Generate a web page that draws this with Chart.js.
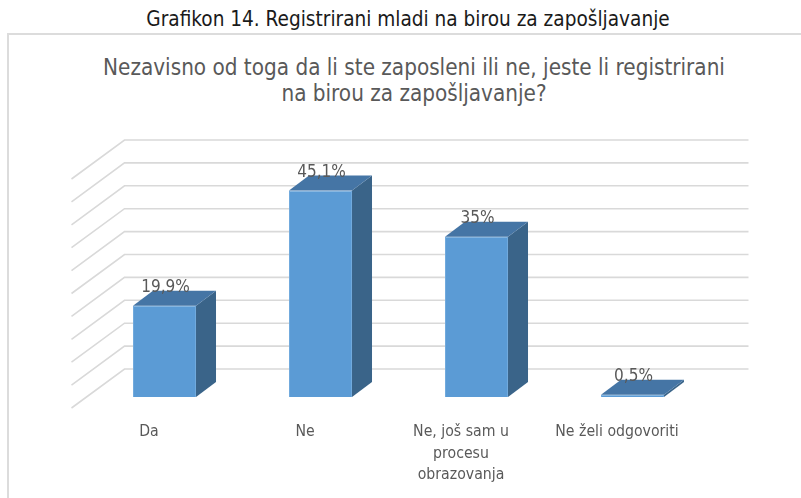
<!DOCTYPE html>
<html>
<head>
<meta charset="utf-8">
<script src="https://cdn.jsdelivr.net/npm/chart.js@4.4.1/dist/chart.umd.min.js"></script>
<style>
  body { margin: 0; background: #fff; }
  .page { position: relative; width: 801px; height: 498px; overflow: hidden;
          font-family: "Liberation Sans Narrow", "DejaVu Sans Condensed", sans-serif; }
  .caption { position: absolute; left: 0; width: 816px; top: 6px; text-align: center;
             font-size: 20.6px; color: #1a1a1a; line-height: 26px; }
  .box { position: absolute; left: 7px; top: 33px; width: 820px; height: 500px;
         border: 2px solid #dcdcdc; }
  .question { position: absolute; left: 0; width: 828px; top: 54px; text-align: center;
              font-size: 22.3px; color: #595959; line-height: 26px; }
  canvas { position: absolute; left: 0; top: 0; }
</style>
</head>
<body>
<div class="page">
  <div class="caption">Grafikon 14. Registrirani mladi na birou za zapošljavanje</div>
  <div class="box"></div>
  <div class="question">Nezavisno od toga da li ste zaposleni ili ne, jeste li registrirani<br>na birou za zapošljavanje?</div>
  <canvas id="chart" width="801" height="498"></canvas>
</div>
<script>
// ── Data ──────────────────────────────────────
const categories = ['Da', 'Ne', ['Ne, još sam u', 'procesu', 'obrazovanja'], 'Ne želi odgovoriti'];
const values = [19.9, 45.1, 35, 0.5];
const yTicks = [0, 5, 10, 15, 20, 25, 30, 35, 40, 45, 50];

const FONT = "'Liberation Sans Narrow', 'DejaVu Sans Condensed', sans-serif";

// ── 3D look ───────────────────────────────────
const depth = { x: 20, y: -15 };     // bar thickness
const wall  = { x: 38, y: -28 };     // back wall offset from bar fronts
const floor = { x: -53, y: 39 };     // side wall diagonal

const fake3d = {
  id: 'fake3d',
  beforeDatasetsDraw(chart) {
    const { ctx, chartArea: a, scales: { y } } = chart;
    ctx.save();
    ctx.strokeStyle = '#d9d9d9';
    ctx.lineWidth = 1.6;
    yTicks.forEach(v => {
      const py = y.getPixelForValue(v) + wall.y;
      const px = a.left + wall.x;
      ctx.beginPath();
      ctx.moveTo(px + floor.x, py + floor.y);
      ctx.lineTo(px, py);
      ctx.lineTo(a.right + wall.x, py);
      ctx.stroke();
    });
    ctx.restore();
  },
  afterDatasetsDraw(chart) {
    const { ctx } = chart;
    const bars = chart.getDatasetMeta(0).data;
    ctx.save();
    bars.forEach(bar => {
      const l = bar.x - bar.width / 2, r = bar.x + bar.width / 2;
      // side
      ctx.fillStyle = '#3a6489';
      ctx.beginPath();
      ctx.moveTo(r, bar.y);
      ctx.lineTo(r + depth.x, bar.y + depth.y);
      ctx.lineTo(r + depth.x, bar.base + depth.y);
      ctx.lineTo(r, bar.base);
      ctx.closePath();
      ctx.fill();
      // top
      ctx.fillStyle = '#4575a5';
      ctx.beginPath();
      ctx.moveTo(l, bar.y);
      ctx.lineTo(l + depth.x, bar.y + depth.y);
      ctx.lineTo(r + depth.x, bar.y + depth.y);
      ctx.lineTo(r, bar.y);
      ctx.closePath();
      ctx.fill();
    });
    // value labels
    ctx.fillStyle = '#595959';
    ctx.font = '17px ' + FONT;
    ctx.textAlign = 'center';
    ctx.textBaseline = 'middle';
    bars.forEach((bar, i) => {
      ctx.fillText(String(values[i]).replace('.', ',') + '%', bar.x + 1, bar.y - 18);
    });
    ctx.restore();
  }
};

new Chart(document.getElementById('chart'), {
  type: 'bar',
  data: {
    labels: categories,
    datasets: [{
      data: values,
      backgroundColor: '#5b9bd5',
      borderColor: '#72aadd',
      borderWidth: 1,
      categoryPercentage: 1,
      barPercentage: 0.404
    }]
  },
  options: {
    responsive: false,
    animation: false,
    devicePixelRatio: 1,
    layout: { padding: { left: 86.5, right: 90.5, top: 168, bottom: -12 } },
    plugins: { legend: { display: false }, tooltip: { enabled: false }, title: { display: false } },
    scales: {
      y: { display: false, min: 0, max: 50 },
      x: {
        grid: { display: false, drawTicks: false },
        border: { display: false },
        ticks: {
          color: '#595959',
          font: { family: FONT, size: 15.7, lineHeight: 1.38 },
          labelOffset: -15.5,
          padding: 24,
          maxRotation: 0,
          autoSkip: false
        }
      }
    }
  },
  plugins: [fake3d]
});
</script>
</body>
</html>
